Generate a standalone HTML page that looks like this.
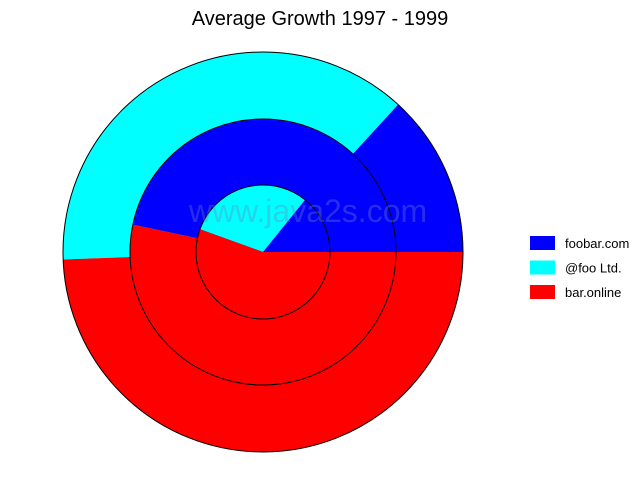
<!DOCTYPE html>
<html><head><meta charset="utf-8"><style>
body{margin:0;background:#fff;}
svg{display:block;font-family:"Liberation Sans",sans-serif;}
</style></head><body>
<svg id="chart" width="640" height="480" viewBox="0 0 640 480">
<rect width="640" height="480" fill="#fff"/>
<text x="320" y="25" font-size="20" text-anchor="middle" fill="#000">Average Growth 1997 - 1999</text>
<g id="rings"></g>
<text x="308" y="222" font-size="32" text-anchor="middle" fill="#7080c0" fill-opacity="0.35">www.java2s.com</text>
<g id="legend"></g>
</svg>
<script>
const series = ["foobar.com", "@foo Ltd.", "bar.online"];
const colors = ["#0000ff", "#00ffff", "#ff0000"];
// rings from outer to inner; values per series
const outerValues = [13.2, 37.4, 49.4];
const middleValues = [46.7, 0, 53.3];
const innerValues = [14.2, 30.3, 55.5];
const ringData = [outerValues, middleValues, innerValues];

const NS = "http://www.w3.org/2000/svg";
const cx = 263, cy = 252;
const radii = [200, 133, 67];
const g = document.getElementById("rings");
function pt(r, a){ const rad = a*Math.PI/180; return [cx + r*Math.cos(rad), cy - r*Math.sin(rad)]; }
ringData.forEach((vals, ri) => {
  const r = radii[ri];
  const total = vals.reduce((a,b)=>a+b,0);
  let start = 0;
  vals.forEach((v, si) => {
    if (v <= 0) return;
    const sweep = v/total*360;
    const end = start + sweep;
    const p1 = pt(r, start), p2 = pt(r, end);
    const large = sweep > 180 ? 1 : 0;
    const path = document.createElementNS(NS, "path");
    path.setAttribute("d", `M${cx},${cy} L${p1[0]},${p1[1]} A${r},${r} 0 ${large} 0 ${p2[0]},${p2[1]} Z`);
    path.setAttribute("fill", colors[si]);
    
    
    g.appendChild(path);
    start = end;
  });
  const c = document.createElementNS(NS, "circle");
  c.setAttribute("cx", cx); c.setAttribute("cy", cy); c.setAttribute("r", r);
  c.setAttribute("fill", "none"); c.setAttribute("stroke", "#000"); c.setAttribute("stroke-width", "1");
  
  
  g.appendChild(c);
});
const lg = document.getElementById("legend");
series.forEach((s, i) => {
  const y = 236 + i*24.5;
  const r = document.createElementNS(NS, "rect");
  r.setAttribute("x", 530); r.setAttribute("y", y); r.setAttribute("width", 25); r.setAttribute("height", 14);
  r.setAttribute("fill", colors[i]);
  
  
  lg.appendChild(r);
  const t = document.createElementNS(NS, "text");
  t.setAttribute("x", 565); t.setAttribute("y", y + 12); t.setAttribute("font-size", "13");
  t.textContent = s;
  
  
  lg.appendChild(t);
});
</script>
</body></html>
